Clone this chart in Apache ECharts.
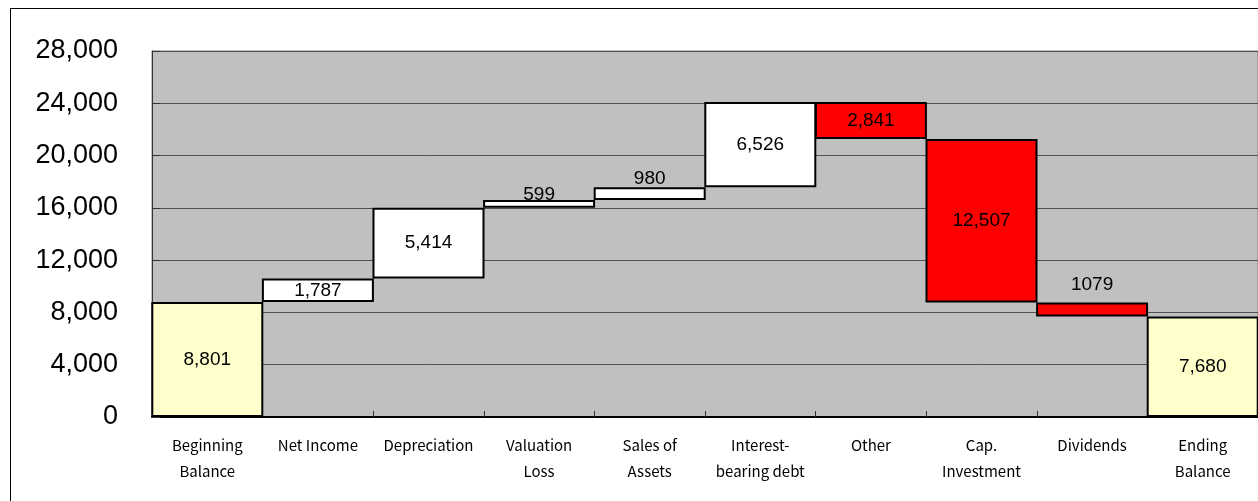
<!DOCTYPE html>
<html>
<head>
<meta charset="utf-8">
<script src="https://cdn.jsdelivr.net/npm/echarts@6/dist/echarts.min.js"></script>
<style>
  html, body { margin: 0; padding: 0; background: #fff; overflow: hidden; }
  #frame {
    position: absolute; left: 10px; top: 8px; width: 1400px; height: 700px;
    border: 1.5px solid #000; box-sizing: border-box;
  }
  #chart { position: absolute; left: 0; top: 0; width: 1258px; height: 501px; }
</style>
</head>
<body>
<div id="frame"></div>
<div id="chart"></div>
<script>
// categories (two-line labels)
const categories = [
  'Beginning\nBalance', 'Net Income', 'Depreciation', 'Valuation\nLoss', 'Sales of\nAssets',
  'Interest-\nbearing debt', 'Other', 'Cap.\nInvestment', 'Dividends', 'Ending\nBalance'
];
// bar kind: total / up / down
const kinds = ['total', 'up', 'up', 'up', 'up', 'up', 'down', 'down', 'down', 'total'];
// magnitudes of each step
const amounts = [8801, 1787, 5414, 599, 980, 6526, 2841, 12507, 1079, 7680];
// label text as printed
const labelTexts = ['8,801', '1,787', '5,414', '599', '980', '6,526', '2,841', '12,507', '1079', '7,680'];
const yTicks = [0, 4000, 8000, 12000, 16000, 20000, 24000, 28000];

// invisible base under each step (running total)
const bases = [];
let running = 0;
amounts.forEach((v, i) => {
  if (kinds[i] === 'total') { bases.push(0); running = v; }
  else if (kinds[i] === 'up') { bases.push(running); running += v; }
  else { running -= v; bases.push(running); }
});

const fillColors = { total: '#FFFFCC', up: '#FFFFFF', down: '#FF0000' };
// small bars get label above, with a custom gap
const smallLabelGap = { 3: -4, 4: -1, 8: 8 };

const valueData = amounts.map((v, i) => {
  const lab = smallLabelGap[i] !== undefined
    ? { position: 'top', distance: smallLabelGap[i] }
    : { position: 'inside' };
  return { value: v, itemStyle: { color: fillColors[kinds[i]] }, label: lab };
});

const myChart = echarts.init(document.getElementById('chart'));
myChart.setOption({
  animation: false,
  grid: {
    left: 152, right: 0, top: 51, bottom: 84,
    show: true, backgroundColor: '#C0C0C0', borderColor: '#808080', borderWidth: 1
  },
  xAxis: {
    type: 'category',
    data: categories,
    axisLine: { lineStyle: { color: '#000', width: 2 } },
    axisTick: { show: true, inside: true, length: 6, lineStyle: { color: '#333' } },
    axisLabel: {
      interval: 0,
      color: '#000', fontSize: 15, lineHeight: 26, margin: 15,
      fontFamily: '"Noto Sans CJK JP", "DejaVu Sans", sans-serif'
    }
  },
  yAxis: {
    type: 'value',
    min: yTicks[0], max: yTicks[yTicks.length - 1], interval: 4000,
    axisLine: { show: true, lineStyle: { color: '#333', width: 1 } },
    axisTick: { show: true, inside: true, length: 8, lineStyle: { color: '#333' } },
    splitLine: { lineStyle: { color: '#505050', width: 1 } },
    axisLabel: {
      color: '#000', fontSize: 27, margin: 34, padding: [12, 0, 0, 0],
      fontFamily: '"Liberation Sans", Arial, sans-serif',
      formatter: v => v.toLocaleString('en-US')
    }
  },
  series: [
    {
      name: 'base', type: 'bar', stack: 'w', data: bases,
      barWidth: 112,
      itemStyle: { color: 'transparent', borderWidth: 0 },
      emphasis: { disabled: true }, silent: true
    },
    {
      name: 'value', type: 'bar', stack: 'w', data: valueData,
      barWidth: 112,
      itemStyle: { borderColor: '#000', borderWidth: 2 },
      label: {
        show: true, color: '#000', fontSize: 19,
        fontFamily: '"Liberation Sans", Arial, sans-serif',
        formatter: p => labelTexts[p.dataIndex]
      }
    }
  ]
});
</script>
</body>
</html>
